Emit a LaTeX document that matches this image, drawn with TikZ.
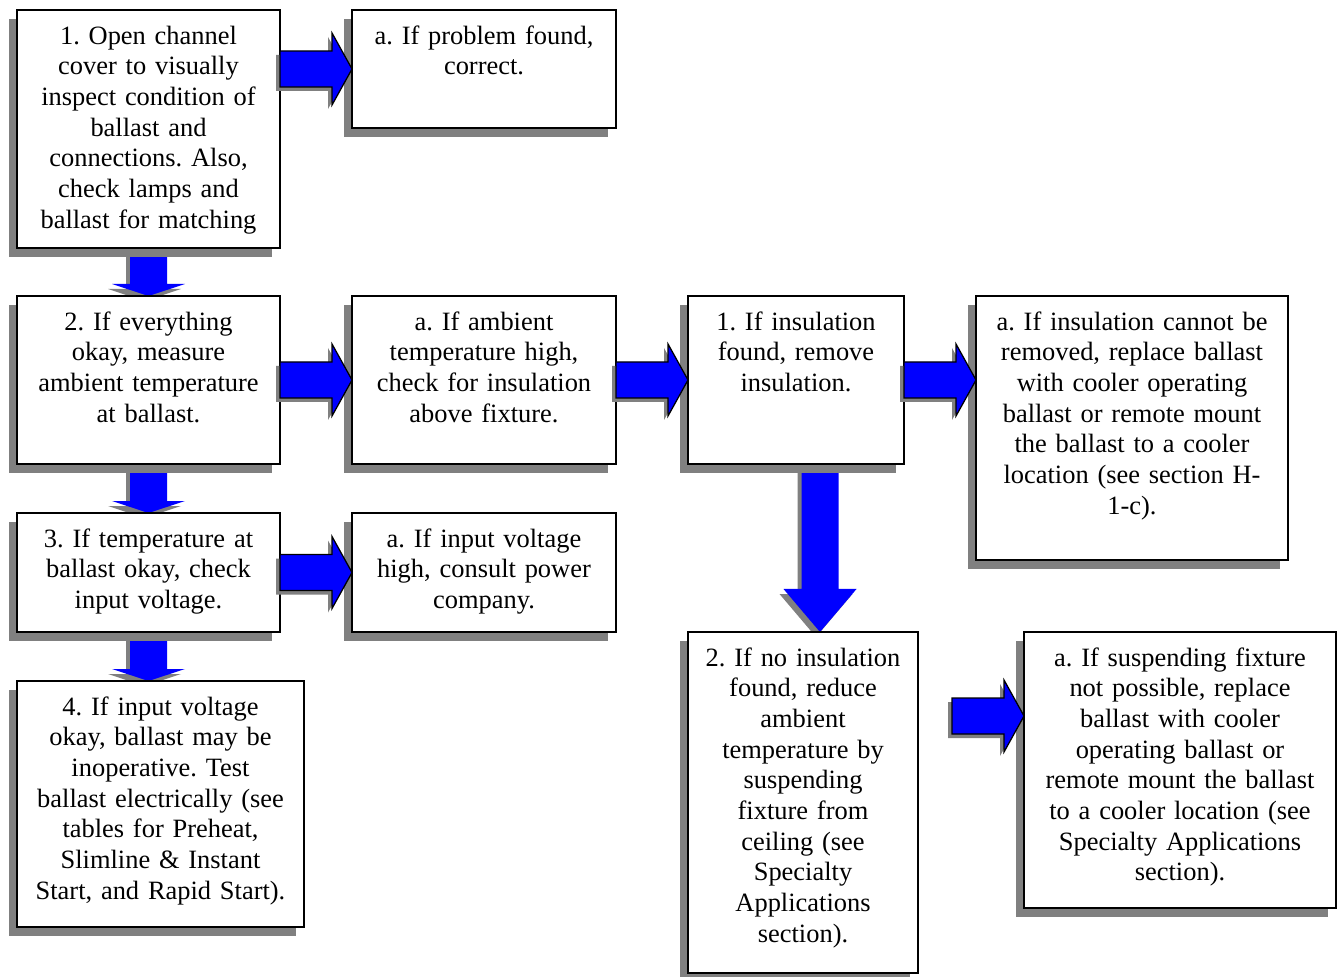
\documentclass[tikz,border=0pt]{standalone}
\usepackage{fontspec}
\setmainfont{Liberation Serif}
\usetikzlibrary{calc,backgrounds}
\definecolor{boxshade}{RGB}{128,128,128}
\definecolor{flowblue}{RGB}{0,0,255}
\tikzset{
	panel/.style={draw=black, line width=1.1pt, fill=white, inner sep=0pt, outer sep=0pt},
	paneltext/.style={align=center, inner sep=0pt, font=\fontsize{18.8}{21.8}\selectfont\frenchspacing},
}
% box with shadow: name, x1, y1, x2, y2, text (pixel units)
\def\panelbox#1#2#3#4#5#6{%
	\pgfmathsetmacro\panelw{(#4-#2)*0.025}%
	\pgfmathsetmacro\panelh{(#5-#3)*0.025}%
	\fill[boxshade] (#2-8,#3+9) rectangle (#4-8,#5+9);
	\node[panel, minimum width=\panelw cm, minimum height=\panelh cm] (#1) at ({(#2+#4)/2},{(#3+#5)/2}) {};
	\node[paneltext, text width=\panelw cm, anchor=north] (#1-t) at ($(#1.north)+(0,12.5)$) {\strut #6};
}
% block arrow to the right: style, tail, tip, dx, dy
\def\flowpoly#1(#2)(#3)#4#5{%
	\path[#1] ($(#2)+(#4,#5-18)$) -- ($(#3)+(#4-20,#5-18)$) -- ($(#3)+(#4-20,#5-36)$) -- ($(#3)+(#4,#5)$)
		-- ($(#3)+(#4-20,#5+36)$) -- ($(#3)+(#4-20,#5+18)$) -- ($(#2)+(#4,#5+18)$) -- cycle;}
\def\flowright(#1)(#2){%
	\flowpoly{fill=boxshade}(#1)(#2){-4}{4}%
	\flowpoly{fill=flowblue, draw=black, line width=0.9pt, line join=miter}(#1)(#2){0}{0}}
% block arrow downwards: style, tail, tip, dx, dy, head length
\def\dropoly#1(#2)(#3)#4#5#6{%
	\path[#1] ($(#2)+(#4-18.5,#5)$) -- ($(#3)+(#4-18.5,#5-#6)$) -- ($(#3)+(#4-36.5,#5-#6)$) -- ($(#3)+(#4,#5)$)
		-- ($(#3)+(#4+36.5,#5-#6)$) -- ($(#3)+(#4+18.5,#5-#6)$) -- ($(#2)+(#4+18.5,#5)$) -- cycle;}
\def\flowdown(#1)(#2)#3{%
	\dropoly{fill=boxshade}(#1)(#2){-4}{5}{#3}%
	\dropoly{fill=flowblue}(#1)(#2){0}{0}{#3}}

\begin{document}
\begin{tikzpicture}[x=0.025cm, y=-0.025cm]
	%%%%% START %%%%%
	\useasboundingbox (0,0) rectangle (1341,977);
	
	% first column
	\panelbox{a1}{17}{10}{280}{248}{1. Open channel\\cover to visually\\inspect condition of\\ballast and\\connections. Also,\\check lamps and\\ballast for matching}
	\panelbox{a2}{17}{296}{280}{464}{2. If everything\\okay, measure\\ambient temperature\\at ballast.}
	\panelbox{a3}{17}{513}{280}{632}{3. If temperature at\\ballast okay, check\\input voltage.}
	\panelbox{a4}{17}{681}{304}{927}{4. If input voltage\\okay, ballast may be\\inoperative. Test\\ballast electrically (see\\tables for Preheat,\\Slimline \& Instant\\Start, and Rapid Start).}
	
	% second column
	\panelbox{a1a}{352}{10}{616}{128}{a. If problem found,\\correct.}
	\panelbox{a2a}{352}{296}{616}{464}{a. If ambient\\temperature high,\\check for insulation\\above fixture.}
	\panelbox{a3a}{352}{513}{616}{632}{a. If input voltage\\high, consult power\\company.}
	
	% insulation branch
	\panelbox{b1}{688}{296}{904}{464}{1. If insulation\\found, remove\\insulation.}
	\panelbox{b1a}{976}{296}{1288}{560}{a. If insulation cannot be\\removed, replace ballast\\with cooler operating\\ballast or remote mount\\the ballast to a cooler\\location (see section H-\\1-c).}
	\panelbox{b2}{688}{632}{918}{973}{2. If no insulation\\found, reduce\\ambient\\temperature by\\suspending\\fixture from\\ceiling (see\\Specialty\\Applications\\section).}
	\panelbox{b2a}{1024}{632}{1336}{908}{a. If suspending fixture\\not possible, replace\\ballast with cooler\\operating ballast or\\remote mount the ballast\\to a cooler location (see\\Specialty Applications\\section).}
	
	% down arrows, behind the boxes
	\coordinate (a4n) at (a3.south |- a4.north);
	\coordinate (b1d) at ($(b1.south)+(24,0)$);
	\coordinate (b2d) at (b1d |- b2.north);
	\begin{pgfonlayer}{background}
		\flowdown(a1.south)(a2.north){12}
		\flowdown(a2.south)(a3.north){12}
		\flowdown(a3.south)(a4n){12}
		\flowdown(b1d)(b2d){43}
	\end{pgfonlayer}
	
	% right arrows
	\coordinate (a1r) at (a1.east |- a1a.west);
	\coordinate (b1r) at (b1.east -| b1a.west);
	\coordinate (b2x) at (952,716);
	\coordinate (b2y) at (b2a.west |- b2x);
	\flowright(a1r)(a1a.west)
	\flowright(a2.east)(a2a.west)
	\flowright(a2a.east)(b1.west)
	\flowright(b1.east)(b1r)
	\flowright(a3.east)(a3a.west)
	\flowright(b2x)(b2y)
	
	%%%%% END %%%%%
\end{tikzpicture}
\end{document}
